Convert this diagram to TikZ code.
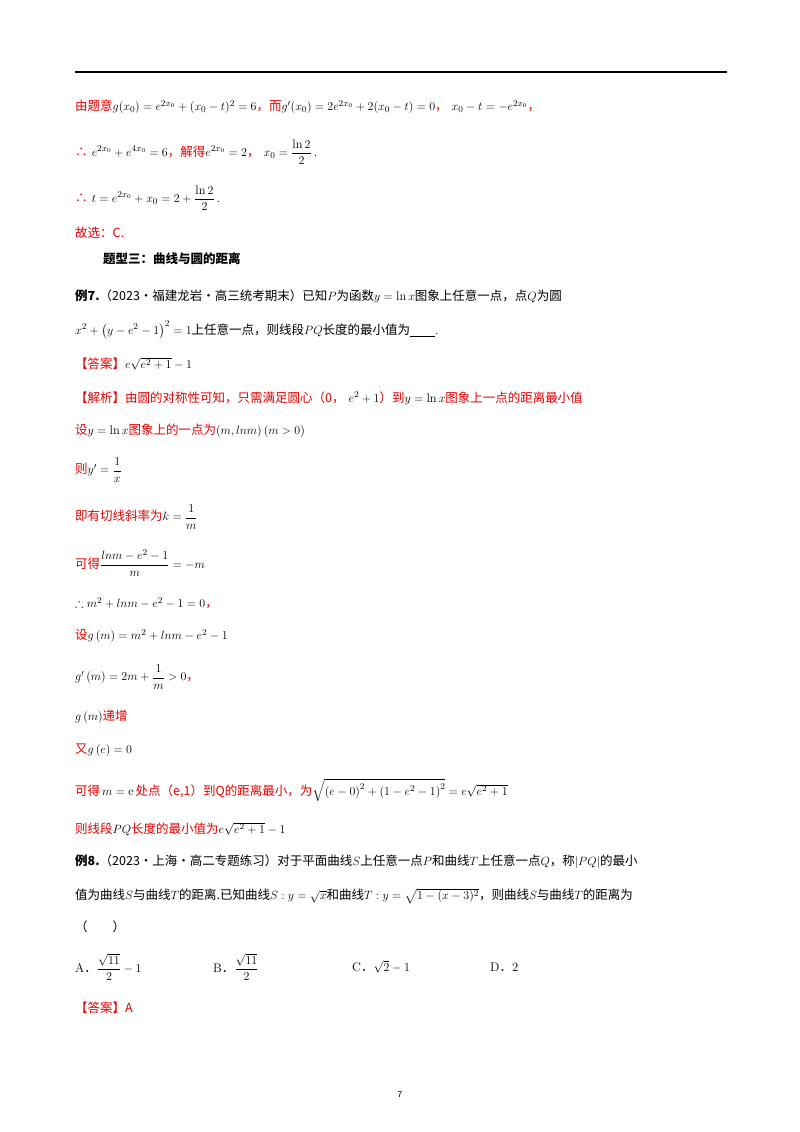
\documentclass[tikz,border=0pt]{standalone}
\usepackage{amsmath,amssymb}
\usepackage{fontspec}
\newfontfamily\cjk{Noto Sans CJK SC}
\definecolor{rd}{RGB}{230,0,0}
\newcommand{\R}[1]{{\color{rd}\cjk #1}}
\begin{document}
\begin{tikzpicture}[x=1pt,y=-1pt,
 t/.style={anchor=west,inner sep=0pt,font=\fontsize{12.5}{15}\selectfont}]
\useasboundingbox (0,0) rectangle (800,1132);
\draw[line width=1.2pt] (75,72) coordinate (r1) -- (727,72) coordinate (r2);
\node[t] (l1) at (75,107) {\R{由题意}$g(x_0)=e^{2x_0}+(x_0-t)^2=6$\R{，而}$g'(x_0)=2e^{2x_0}+2(x_0-t)=0$\R{，} $x_0-t=-e^{2x_0}$\R{，}};
\node[t] (l2) at (75,152) {\R{∴} $e^{2x_0}+e^{4x_0}=6$\R{，解得}$e^{2x_0}=2$\R{，} $x_0=\dfrac{\ln 2}{2}$\,.};
\node[t] (l3) at (75,198) {\R{∴} $t=e^{2x_0}+x_0=2+\dfrac{\ln 2}{2}$\,.};
\node[t] (l4) at (75,233) {\R{故选：C.}};
\node[t] (l5) at (103,259) {\cjk\bfseries 题型三：曲线与圆的距离};
\node[t] (l6) at (75,296) {{\cjk\bfseries 例7.}{\cjk （2023·福建龙岩·高三统考期末）已知}$P${\cjk 为函数}$y=\ln x${\cjk 图象上任意一点，点}$Q${\cjk 为圆}};
\node[t] (l7) at (75,330) {$x^2+\left(y-e^2-1\right)^2=1${\cjk 上任意一点，则线段}$PQ${\cjk 长度的最小值为}\underline{\hspace{2em}}.};
\node[t] (l8) at (75,364) {\R{【答案】}$e\sqrt{e^2+1}-1$};
\node[t] (l9) at (75,398) {\R{【解析】由圆的对称性可知，只需满足圆心（0，}$\ e^2+1$\R{）到}$y=\ln x$\R{图象上一点的距离最小值}};
\node[t] (l10) at (75,431) {\R{设}$y=\ln x$\R{图象上的一点为}$\left(m,lnm\right)(m>0)$};
\node[t] (l11) at (75,470) {\R{则}$y'=\dfrac{1}{x}$};
\node[t] (l12) at (75,517) {\R{即有切线斜率为}$k=\dfrac{1}{m}$};
\node[t] (l13) at (75,563) {\R{可得}$\dfrac{lnm-e^2-1}{m}=-m$};
\node[t] (l14) at (75,603) {$\therefore m^2+lnm-e^2-1=0$\R{，}};
\node[t] (l15) at (75,636) {\R{设}$g\left(m\right)=m^2+lnm-e^2-1$};
\node[t] (l16) at (75,677) {$g'\left(m\right)=2m+\dfrac{1}{m}>0$\R{，}};
\node[t] (l17) at (75,717) {$g\left(m\right)$\R{递增}};
\node[t] (l18) at (75,750) {\R{又}$g\left(e\right)=0$};
\node[t] (l19) at (75,790) {\R{可得}$\,m=\mathrm{e}\,${\color{rd}\cjk 处点（e,1）到Q的距离最小，为}$\sqrt{\left(e-0\right)^2+\left(1-e^2-1\right)^2}=e\sqrt{e^2+1}$};
\node[t] (l20) at (75,829) {\R{则线段}$PQ$\R{长度的最小值为}$e\sqrt{e^2+1}-1$};
\node[t] (l21) at (75,862) {{\cjk\bfseries 例8.}{\cjk （2023·上海·高二专题练习）对于平面曲线}$S${\cjk 上任意一点}$P${\cjk 和曲线}$T${\cjk 上任意一点}$Q${\cjk ，称}$\left|PQ\right|${\cjk 的最小}};
\node[t] (l22) at (75,896) {{\cjk 值为曲线}$S${\cjk 与曲线}$T${\cjk 的距离.已知曲线}$S:y=\sqrt{x}${\cjk 和曲线}$T:y=\sqrt{1-(x-3)^2}${\cjk ，则曲线}$S${\cjk 与曲线}$T${\cjk 的距离为}};
\node[t] (l23) at (75,927) {\cjk （\hspace{2em}）};
\node[t] (oa) at (75,967) {A{\cjk ．}$\dfrac{\sqrt{11}}{2}-1$};
\node[t] (ob) at (213,967) {B{\cjk ．}$\dfrac{\sqrt{11}}{2}$};
\node[t] (oc) at (352,967) {C{\cjk ．}$\sqrt{2}-1$};
\node[t] (od) at (490,967) {D{\cjk ．}2};
\node[t] (l24) at (75,1008) {\R{【答案】A}};
\node[inner sep=0pt,font=\sffamily\small] (pg) at (400,1095) {7};
\end{tikzpicture}
\end{document}
